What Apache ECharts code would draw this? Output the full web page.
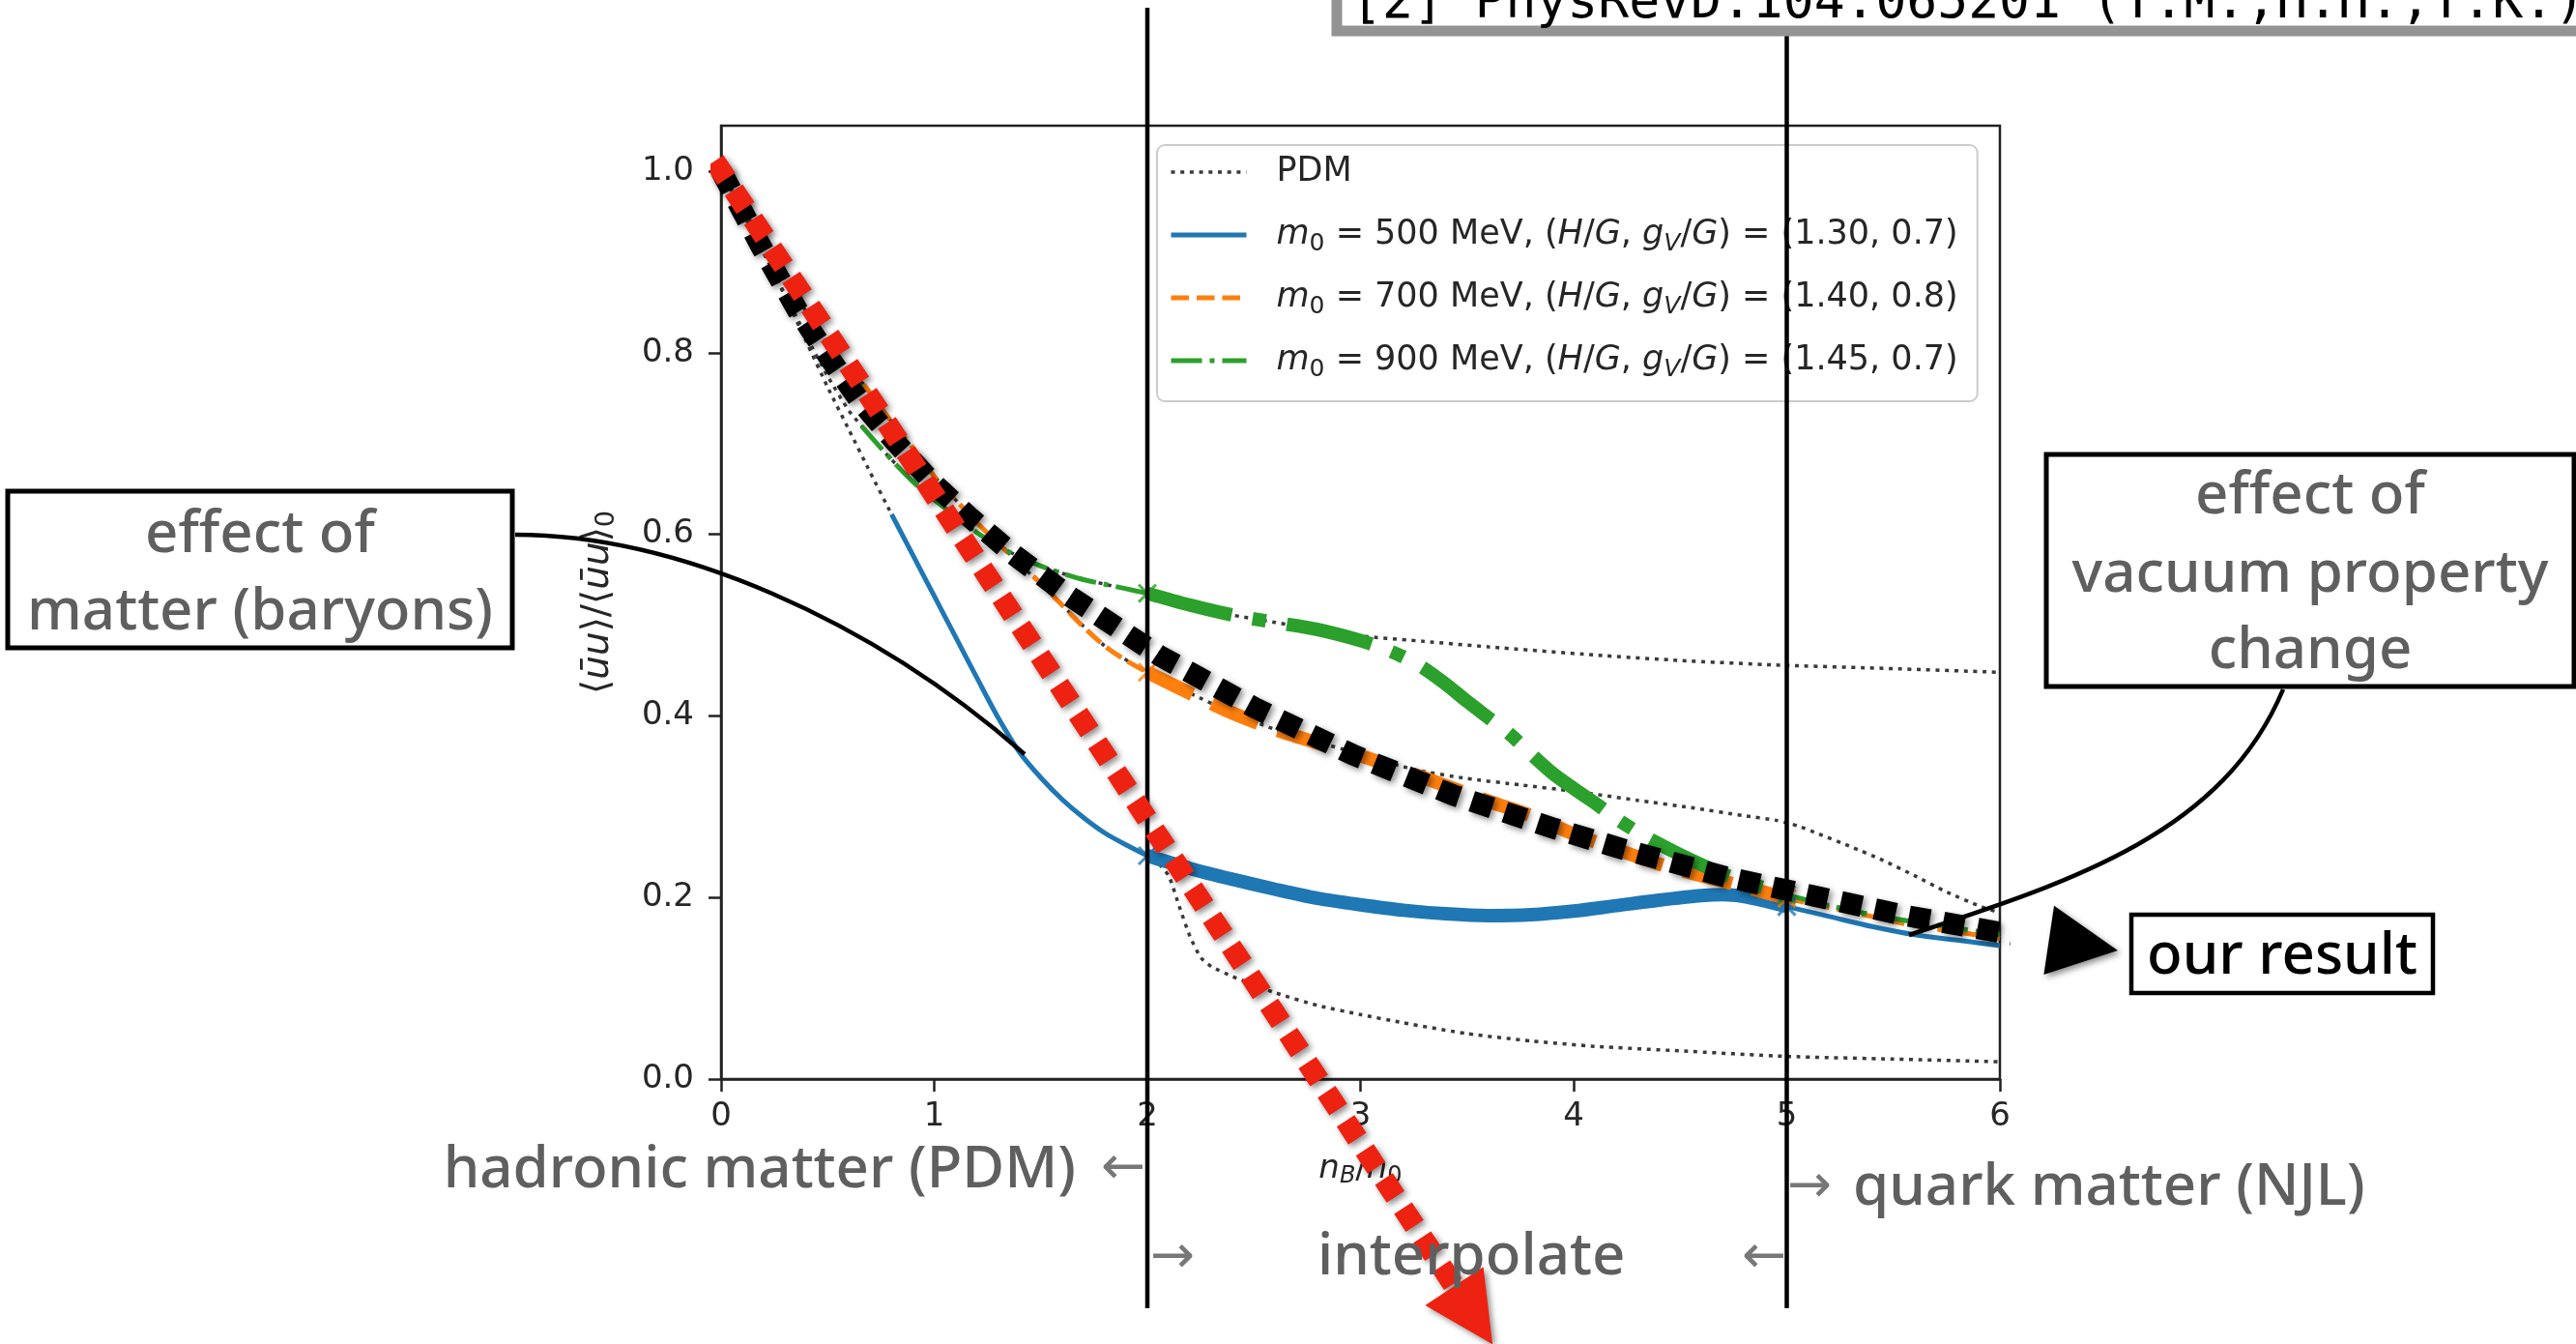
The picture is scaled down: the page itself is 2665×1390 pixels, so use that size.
<!DOCTYPE html>
<html><head><meta charset="utf-8">
<script src="https://cdn.jsdelivr.net/npm/echarts@6/dist/echarts.min.js"></script>
<style>html,body{margin:0;padding:0;background:#fff;}#c{width:2665px;height:1390px;}</style>
</head><body><div id="c"></div>
<script>
// ---------------- data ----------------
const xTicks = [0, 1, 2, 3, 4, 5, 6];
const yTicks = [0, 0.2, 0.4, 0.6, 0.8, 1.0];
const regionBounds = [2, 5];   // PDM | interpolation | NJL

const pdm500X = [0,0.1,0.2,0.3,0.4,0.5,0.6,0.7,0.8,0.9,1.0,1.1,1.2,1.3,1.4,1.5,1.6,1.7,1.8,1.9,2.0,2.05,2.1,2.15,2.2,2.25,2.3,2.4,2.5,2.6,2.8,3.0,3.2,3.5,3.8,4.1,4.5,5.0,5.5,6.0];
const pdm500Y = [1.0,0.955,0.91,0.862,0.812,0.762,0.715,0.668,0.622,0.577,0.532,0.487,0.442,0.398,0.36,0.332,0.308,0.288,0.271,0.258,0.246,0.238,0.224,0.19,0.157,0.134,0.124,0.113,0.104,0.095,0.081,0.071,0.062,0.050,0.042,0.036,0.031,0.025,0.022,0.019];

const pdm700X = [0,0.1,0.2,0.3,0.4,0.5,0.6,0.67,0.8,1.0,1.2,1.4,1.6,1.8,2.0,2.2,2.4,2.6,2.8,3.0,3.25,3.5,3.75,4.0,4.3,4.55,4.8,4.95,5.05,5.15,5.3,5.45,5.6,5.75,5.9,6.0];
const pdm700Y = [1.0,0.96,0.921,0.882,0.845,0.81,0.781,0.765,0.724,0.664,0.613,0.568,0.522,0.477,0.448,0.425,0.403,0.385,0.371,0.358,0.341,0.331,0.324,0.317,0.307,0.299,0.290,0.285,0.279,0.270,0.256,0.241,0.224,0.206,0.191,0.183];

const pdm900X = [0,0.1,0.2,0.3,0.4,0.5,0.6,0.66,0.8,1.0,1.2,1.4,1.6,1.8,2.0,2.2,2.4,2.6,2.8,3.0,3.3,3.6,4.1,4.5,4.95,5.5,6.0];
const pdm900Y = [1.0,0.955,0.91,0.864,0.818,0.774,0.736,0.719,0.682,0.638,0.602,0.575,0.557,0.545,0.535,0.522,0.511,0.503,0.495,0.488,0.482,0.476,0.467,0.461,0.456,0.452,0.448];

const blueX = [0.8,0.9,1.0,1.1,1.2,1.3,1.4,1.5,1.6,1.7,1.8,1.9,2.0,2.2,2.4,2.6,2.8,3.0,3.2,3.4,3.6,3.8,4.0,4.2,4.4,4.6,4.7,4.8,4.9,5.0,5.2,5.4,5.6,5.8,6.0];
const blueY = [0.622,0.577,0.532,0.487,0.442,0.398,0.36,0.332,0.308,0.288,0.271,0.258,0.246,0.232,0.22,0.209,0.199,0.192,0.186,0.182,0.180,0.181,0.185,0.191,0.197,0.202,0.203,0.201,0.196,0.19,0.179,0.168,0.159,0.153,0.147];

const orangeX = [0.67,0.8,0.9,1.0,1.1,1.2,1.3,1.4,1.5,1.6,1.7,1.8,1.9,2.0,2.2,2.4,2.6,2.8,3.0,3.2,3.4,3.6,3.8,4.0,4.2,4.4,4.6,4.8,5.0,5.2,5.4,5.6,5.8,6.0];
const orangeY = [0.765,0.724,0.695,0.664,0.638,0.613,0.59,0.568,0.546,0.522,0.498,0.477,0.461,0.448,0.425,0.403,0.385,0.37,0.356,0.34,0.323,0.306,0.29,0.27,0.253,0.237,0.224,0.212,0.199,0.189,0.179,0.169,0.162,0.155];

const greenX = [0.66,0.8,0.9,1.0,1.1,1.2,1.3,1.4,1.5,1.6,1.7,1.8,1.9,2.0,2.2,2.4,2.6,2.8,3.0,3.1,3.2,3.3,3.4,3.5,3.6,3.7,3.8,3.9,4.0,4.1,4.2,4.3,4.4,4.5,4.6,4.7,4.8,4.9,5.0,5.2,5.4,5.6,5.8,6.0];
const greenY = [0.719,0.682,0.658,0.638,0.62,0.602,0.587,0.575,0.565,0.557,0.55,0.545,0.54,0.535,0.522,0.511,0.503,0.495,0.483,0.475,0.465,0.452,0.435,0.416,0.398,0.380,0.358,0.337,0.320,0.304,0.287,0.272,0.259,0.247,0.236,0.226,0.217,0.210,0.203,0.191,0.181,0.173,0.166,0.159];

// annotation paths drawn over the plot
const ourResultX = [0,0.19,0.358,0.5,0.644,0.8,0.984,1.17,1.365,1.628,2.059,2.503,2.966,3.433,3.909,4.236,4.726,5.061,5.56,6.059,6.23];
const ourResultY = [1.0,0.916,0.847,0.797,0.749,0.706,0.659,0.618,0.579,0.533,0.466,0.409,0.357,0.313,0.276,0.253,0.222,0.205,0.180,0.159,0.153];
const matterArrowX = [-0.03, 3.44];
const matterArrowY = [1.011, -0.228];

const legendNames = ['PDM', 'm500', 'm700', 'm900'];
const legendLabels = {
  PDM: 'PDM',
  m500: '{i|m}{s|0} = 500 MeV, ({i|H}/{i|G}, {i|g}{si|V}/{i|G}) = (1.30, 0.7)',
  m700: '{i|m}{s|0} = 700 MeV, ({i|H}/{i|G}, {i|g}{si|V}/{i|G}) = (1.40, 0.8)',
  m900: '{i|m}{s|0} = 900 MeV, ({i|H}/{i|G}, {i|g}{si|V}/{i|G}) = (1.45, 0.7)'
};

// ---------------- helpers ----------------
function pairs(xs, ys, lo, hi) {
  if (lo === undefined) lo = -Infinity;
  if (hi === undefined) hi = Infinity;
  const out = [];
  for (let i = 0; i < xs.length; i++) {
    if (xs[i] >= lo - 1e-9 && xs[i] <= hi + 1e-9) out.push([xs[i], ys[i]]);
  }
  return out;
}
function valueAt(xs, ys, x) {
  for (let i = 0; i < xs.length; i++) if (Math.abs(xs[i] - x) < 1e-9) return ys[i];
  return null;
}
function line(name, data, color, width, type, z, smooth) {
  return {
    type: 'line', name: name, data: data, symbol: 'none', showSymbol: false,
    smooth: smooth == null ? 0.3 : smooth, silent: true, z: z || 2,
    lineStyle: { color: color, width: width, type: type, cap: 'butt' },
    itemStyle: { color: color }, emphasis: { disabled: true }
  };
}

const C_BLUE = '#1f77b4', C_ORANGE = '#ff7f0e', C_GREEN = '#2ca02c', C_PDM = '#3a3a3a';
const THIN = 5, THICK = 14;
const dotted = [4, 5.7];
const dashThin = [18.5, 8], dashThick = [52, 22];
const dashDotThin = [32, 8, 5, 8], dashDotThick = [90, 22, 14, 22];
const lo = regionBounds[0], hi = regionBounds[1];

const series = [
  line('PDM', pairs(pdm500X, pdm500Y), C_PDM, 3.5, dotted, 2, 0.2),
  line('PDM', pairs(pdm700X, pdm700Y), C_PDM, 3.5, dotted, 2, 0.2),
  line('PDM', pairs(pdm900X, pdm900Y), C_PDM, 3.5, dotted, 2, 0.2),

  line('m500', pairs(blueX, blueY, -Infinity, lo), C_BLUE, THIN, 'solid', 3),
  line('m500', pairs(blueX, blueY, lo, hi), C_BLUE, THICK, 'solid', 3),
  line('m500', pairs(blueX, blueY, hi, Infinity), C_BLUE, THIN, 'solid', 3),

  line('m700', pairs(orangeX, orangeY, -Infinity, lo), C_ORANGE, THIN, dashThin, 3),
  line('m700', pairs(orangeX, orangeY, lo, hi), C_ORANGE, THICK, dashThick, 3),
  line('m700', pairs(orangeX, orangeY, hi, Infinity), C_ORANGE, THIN, dashThin, 3),

  line('m900', pairs(greenX, greenY, -Infinity, lo), C_GREEN, THIN, dashDotThin, 3),
  line('m900', pairs(greenX, greenY, lo, hi), C_GREEN, THICK, dashDotThick, 3),
  line('m900', pairs(greenX, greenY, hi, Infinity), C_GREEN, THIN, dashDotThin, 3)
];

// junction "x" markers
[[blueX, blueY, C_BLUE], [orangeX, orangeY, C_ORANGE], [greenX, greenY, C_GREEN]].forEach(function (c) {
  series.push({
    type: 'scatter', silent: true, z: 4,
    data: regionBounds.map(function (b) { return [b, valueAt(c[0], c[1], b)]; }),
    symbol: 'path://M0 0L10 10M10 0L0 10', symbolSize: 18,
    itemStyle: { color: 'rgba(0,0,0,0)', borderColor: c[2], borderWidth: 3 }
  });
});

const arrowShadow = { shadowBlur: 6, shadowColor: 'rgba(0,0,0,0.45)', shadowOffsetX: 3, shadowOffsetY: 3 };
series.push({
  type: 'line', name: 'ourResult', data: pairs(ourResultX, ourResultY), symbol: 'none', clip: false,
  silent: true, z: 7,
  lineStyle: Object.assign({ color: '#000', width: 22, type: [22, 14], cap: 'butt', join: 'miter' }, arrowShadow)
});
series.push({
  type: 'line', name: 'matterArrow', data: pairs(matterArrowX, matterArrowY), symbol: 'none', clip: false,
  silent: true, z: 7,
  lineStyle: Object.assign({ color: '#ee2211', width: 22, type: [22, 14], cap: 'butt' }, arrowShadow)
});

const tickFont = { fontFamily: 'DejaVu Sans', fontSize: 34, color: '#262626' };
const richMath = {
  i: { fontStyle: 'italic', lineHeight: 40 },
  s: { fontSize: 24, lineHeight: 22, verticalAlign: 'bottom' },
  si: { fontSize: 24, fontStyle: 'italic', lineHeight: 22, verticalAlign: 'bottom' }
};
const richMathY = {
  i: { fontStyle: 'italic', fontSize: 39, lineHeight: 44 },
  s: { fontSize: 27, lineHeight: 24, verticalAlign: 'bottom' }
};

const option = {
  animation: false,
  backgroundColor: '#ffffff',
  grid: { left: 746, top: 130, width: 1323, height: 986, show: true, borderColor: '#222', borderWidth: 2.5, backgroundColor: 'transparent', containLabel: false },
  xAxis: {
    type: 'value', min: 0, max: 6, interval: 1,
    name: '{i|n}{si|B}/{i|n}{s|0}', nameLocation: 'middle', nameGap: 73,
    nameTextStyle: Object.assign({ lineHeight: 40, rich: richMath }, tickFont),
    axisLine: { show: true, onZero: false, lineStyle: { color: '#222', width: 2.5 } },
    axisTick: { show: true, length: 13, lineStyle: { color: '#222', width: 2.5 }, customValues: xTicks },
    axisLabel: Object.assign({ margin: 22, customValues: xTicks, formatter: function (v) { return String(v); } }, tickFont),
    splitLine: { show: false }
  },
  yAxis: {
    type: 'value', min: 0, max: 1.05,
    name: '⟨{i|ūu}⟩/⟨{i|ūu}⟩{s|0}', nameLocation: 'middle', nameGap: 105, nameRotate: 90,
    nameTextStyle: { fontFamily: 'DejaVu Sans', fontSize: 39, color: '#262626', lineHeight: 44, rich: richMathY },
    axisLine: { show: true, lineStyle: { color: '#222', width: 2.5 } },
    axisTick: { show: true, length: 13, lineStyle: { color: '#222', width: 2.5 }, customValues: yTicks },
    axisLabel: Object.assign({ margin: 28, customValues: yTicks, formatter: function (v) { return v.toFixed(1); } }, tickFont),
    splitLine: { show: false }
  },
  legend: {
    data: [
      { name: 'PDM', lineStyle: { width: 3.5 } },
      { name: 'm500', lineStyle: { width: 5 } },
      { name: 'm700', lineStyle: { width: 5 } },
      { name: 'm900', lineStyle: { width: 5 } }
    ],
    orient: 'vertical', align: 'left', left: 1197, top: 150, z: 3,
    itemWidth: 78, itemHeight: 44, itemGap: 21, selectedMode: false,
    padding: [6, 20, 20, 12],
    itemStyle: { opacity: 0 },
    lineStyle: { width: 5 },
    backgroundColor: 'rgba(255,255,255,0.8)', borderColor: '#cccccc', borderWidth: 2, borderRadius: 8,
    formatter: function (n) { return legendLabels[n]; },
    textStyle: {
      fontFamily: 'DejaVu Sans', fontSize: 35, color: '#262626', lineHeight: 44, padding: [0, 0, 0, 26],
      rich: {
        i: { fontStyle: 'italic', fontSize: 35, lineHeight: 44 },
        s: { fontSize: 25, lineHeight: 24, verticalAlign: 'bottom' },
        si: { fontSize: 25, fontStyle: 'italic', lineHeight: 24, verticalAlign: 'bottom' }
      }
    }
  },
  series: series
};

const chart = echarts.init(document.getElementById('c'), null, { renderer: 'canvas', width: 2665, height: 1390 });
chart.setOption(option);

// ---------------- annotations ----------------
function px(x, y) { return chart.convertToPixel({ gridIndex: 0 }, [x, y]); }
function arrowHead(a, b, len, half) {
  const dx = b[0] - a[0], dy = b[1] - a[1], L = Math.hypot(dx, dy), ux = dx / L, uy = dy / L;
  return [[b[0] + ux * len, b[1] + uy * len], [b[0] - uy * half, b[1] + ux * half], [b[0] + uy * half, b[1] - ux * half]];
}
const gray = '#5f5f5f';
const annFont = 'Noto Sans';
function txt(text, x, y, opts) {
  return {
    type: 'text', x: x, y: y, z: 30, silent: true,
    style: Object.assign({ text: text, fontFamily: annFont, fontSize: 60, fontWeight: 500, fill: gray, align: 'center', verticalAlign: 'middle' }, opts || {})
  };
}
function arrowTxt(text, x, y) {
  return txt(text, x, y, { align: 'left', fontFamily: 'DejaVu Sans', fontSize: 55, fontWeight: 'normal', fill: '#777' });
}
function box(x, y, w, h, lw) {
  return { type: 'rect', z: 29, silent: true, shape: { x: x, y: y, width: w, height: h }, style: { fill: '#fff', stroke: '#000', lineWidth: lw } };
}

const n = ourResultX.length;
const ourA = px(ourResultX[n - 2], ourResultY[n - 2]), ourB = px(ourResultX[n - 1], ourResultY[n - 1]);
const redA = px(matterArrowX[0], matterArrowY[0]), redB = px(matterArrowX[1], matterArrowY[1]);
const xL = px(regionBounds[0], 0)[0], xR = px(regionBounds[1], 0)[0];

const graphics = [
  { type: 'line', z: 5, silent: true, shape: { x1: xL, y1: 8, x2: xL, y2: 1353 }, style: { stroke: '#000', lineWidth: 4.5 } },
  { type: 'line', z: 5, silent: true, shape: { x1: xR, y1: 8, x2: xR, y2: 1353 }, style: { stroke: '#000', lineWidth: 4.5 } },
  { type: 'polygon', z: 8, silent: true, shape: { points: arrowHead(ourA, ourB, 72, 36) }, style: Object.assign({ fill: '#000' }, arrowShadow) },
  { type: 'polygon', z: 8, silent: true, shape: { points: arrowHead(redA, redB, 72, 36) }, style: Object.assign({ fill: '#ee2211' }, arrowShadow) },

  // citation box (cut off at the top)
  { type: 'rect', z: 31, silent: true, shape: { x: 1383, y: -30, width: 1400, height: 62 }, style: { fill: '#fff', stroke: '#949494', lineWidth: 11 } },
  { type: 'text', z: 32, silent: true, x: 1398, y: 4, style: { text: '[2] PhysRevD.104.065201 (T.M.,H.H.,T.K.)', fontFamily: 'DejaVu Sans Mono', fontSize: 53, fill: '#000', align: 'left', verticalAlign: 'middle' } },

  // connectors
  { type: 'bezierCurve', z: 28, silent: true, shape: { x1: 533, y1: 553, cpx1: 700, cpy1: 553, cpx2: 900, cpy2: 640, x2: 1060, y2: 780 }, style: { stroke: '#000', lineWidth: 4.5, fill: null } },
  { type: 'bezierCurve', z: 28, silent: true, shape: { x1: 2362, y1: 713, cpx1: 2300, cpy1: 860, cpx2: 2150, cpy2: 910, x2: 1975, y2: 967 }, style: { stroke: '#000', lineWidth: 4.5, fill: null } },

  box(8, 508, 522, 162, 5),
  txt('effect of', 269, 554),
  txt('matter (baryons)', 269, 634),

  box(2117, 470, 546, 240, 5),
  txt('effect of', 2390, 514),
  txt('vacuum property', 2390, 595),
  txt('change', 2390, 674),

  box(2205, 946, 312, 81, 4.5),
  txt('our result', 2361, 990, { fill: '#000' }),

  txt('hadronic matter (PDM)', 1113, 1211, { align: 'right' }),
  arrowTxt('←', 1139, 1210),
  arrowTxt('→', 1849, 1229),
  txt('quark matter (NJL)', 1917, 1229, { align: 'left' }),
  arrowTxt('→', 1190, 1302),
  txt('interpolate', 1363, 1301, { align: 'left' }),
  arrowTxt('←', 1802, 1302)
];
chart.setOption({ graphic: graphics });
</script>
</body></html>
